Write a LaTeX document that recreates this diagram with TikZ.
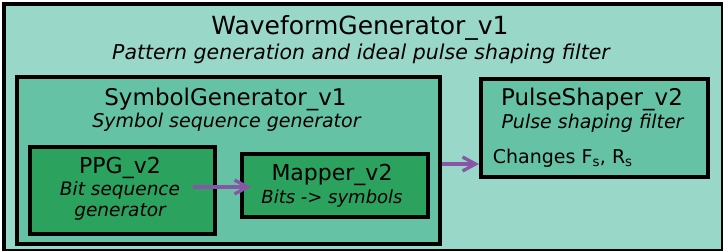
\documentclass[tikz,border=0pt]{standalone}
\usepackage{fontspec}
\setmainfont{DejaVu Sans}
\usepackage{xcolor}
\usepackage{tikz}
\usetikzlibrary{arrows.meta, positioning}

\definecolor{tealpale}{HTML}{99D8C9}
\definecolor{tealmid}{HTML}{66C2A4}
\definecolor{greendeep}{HTML}{2CA25F}
\definecolor{flowpurple}{HTML}{8856A7}

\tikzset{
  block/.style={draw, line width=4pt, anchor=north west, inner sep=0pt},
  blockname/.style={anchor=base, font=\fontsize{23}{26}\selectfont},
  blocknote/.style={anchor=base, font=\fontsize{19}{22}\selectfont\itshape},
  flow/.style={line width=3.3pt, flowpurple, -{Straight Barb[length=13pt,width=14pt]}},
}

\begin{document}
\begin{tikzpicture}[x=1pt, y=-1pt]
\useasboundingbox (0,0) rectangle (723,251);
% Outer block
\node[block, fill=tealpale, minimum width=719pt, minimum height=247pt] (wavegen) at (2,2) {};
\node[anchor=base, font=\fontsize{25}{28}\selectfont] (wavename) at (360,34.5) {WaveformGenerator\_v1};
\node[anchor=base, font=\fontsize{20.5}{24}\selectfont\itshape] (wavenote) at (361,59.5) {Pattern generation and ideal pulse shaping filter};
% Symbol generator and its sub-blocks
\node[block, fill=tealmid, minimum width=423pt, minimum height=167pt] (symgen) at (15,75) {};
\node[blockname] (symname) at (225.5,105.7) {SymbolGenerator\_v1};
\node[blocknote] (symnote) at (226.5,127.7) {Symbol sequence generator};
\node[block, fill=greendeep, minimum width=185pt, minimum height=87pt] (ppg) at (28,145) {};
\node[blockname, font=\fontsize{22}{25}\selectfont] (ppgname) at (120,173.3) {PPG\_v2};
\node[blocknote, font=\fontsize{18.5}{22}\selectfont\itshape] (ppgnote) at (120,195) {Bit sequence};
\node[blocknote, font=\fontsize{18.5}{22}\selectfont\itshape] (ppgnote2) at (120,216.7) {generator};
\node[block, fill=greendeep, minimum width=186pt, minimum height=63pt] (mapper) at (240,152) {};
\node[blockname, font=\fontsize{22}{25}\selectfont] (mapname) at (332,180.7) {Mapper\_v2};
\node[blocknote, font=\fontsize{18}{22}\selectfont\itshape] (mapnote) at (332,203.3) {Bits -> symbols};
% Pulse shaper
\node[block, fill=tealmid, minimum width=227pt, minimum height=98pt] (pulse) at (479,77) {};
\node[blockname] (pulsename) at (592,105.7) {PulseShaper\_v2};
\node[blocknote] (pulsenote) at (592.5,128.3) {Pulse shaping filter};
\node[anchor=base west, inner sep=0pt, font=\fontsize{19}{22}\selectfont] (pulserate) at (492.7,164) {Changes F\textsubscript{s}, R\textsubscript{s}};
% Data flow
\coordinate (bitsout) at (192.5,187);
\coordinate (bitsin) at (251,187);
\coordinate (symout) at (symgen.east |- 0,164);
\coordinate (pulsein) at (pulse.west |- 0,164);
\draw[flow] (bitsout) -- (bitsin);
\draw[flow] (symout) -- (pulsein);
\end{tikzpicture}
\end{document}
